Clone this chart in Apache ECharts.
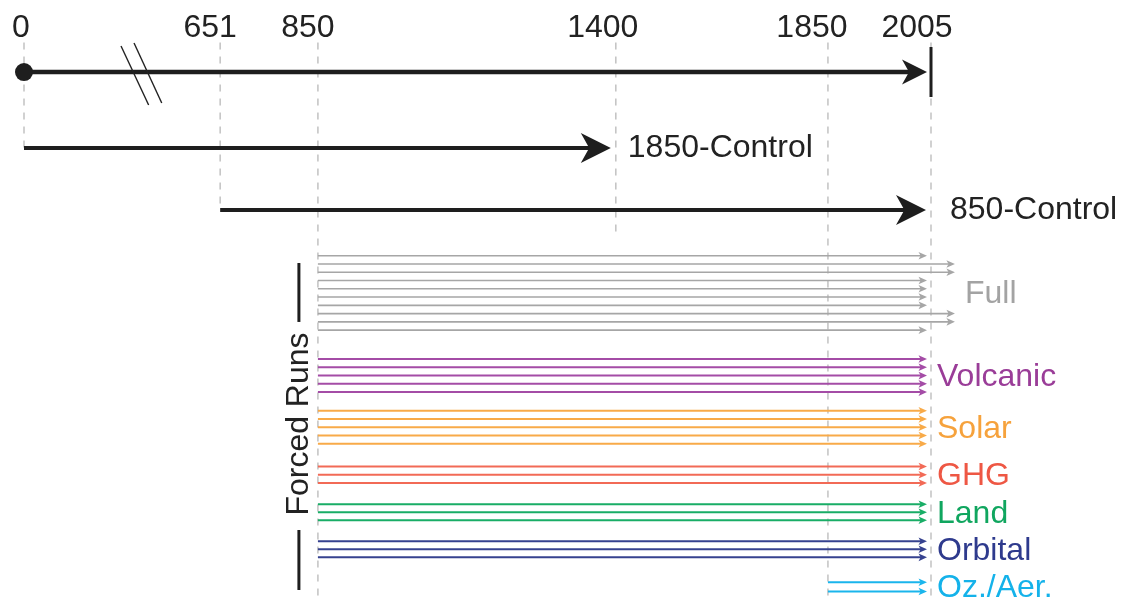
<!DOCTYPE html>
<html><head><meta charset="utf-8">
<script src="https://cdn.jsdelivr.net/npm/echarts@6/dist/echarts.min.js"></script>
<style>html,body{margin:0;padding:0;background:#fff}#c{width:1127px;height:607px}</style>
</head><body><div id="c"></div>
<script>
// ---------------- data ----------------
const tickYears = [0, 651, 850, 1400, 1850, 2005];
const tickLabels = ['0', '651', '850', '1400', '1850', '2005'];
const timelineStart = 0;
const timelineEnd = 2005;
const controlNames = ['1850-Control', '850-Control'];
const controlStarts = [0, 651];
const controlEnds = [1400, 2005];
const groupNames = ['Full', 'Volcanic', 'Solar', 'GHG', 'Land', 'Orbital', 'Oz./Aer.'];
const groupStarts = [850, 850, 850, 850, 850, 850, 1850];
const fullEnds = [2005, 2047, 2047, 2005, 2005, 2005, 2005, 2047, 2047, 2005];
const volcanicEnds = [2005, 2005, 2005, 2005, 2005];
const solarEnds = [2005, 2005, 2005, 2005, 2005];
const ghgEnds = [2005, 2005, 2005];
const landEnds = [2005, 2005, 2005];
const orbitalEnds = [2005, 2005, 2005];
const ozAerEnds = [2005, 2005];
const groupEnds = [fullEnds, volcanicEnds, solarEnds, ghgEnds, landEnds, orbitalEnds, ozAerEnds];
const bracketLabel = 'Forced Runs';

// ---------------- layout / style ----------------
// schematic (non-uniform) time axis: compressed stretches; only the first one is marked with "//"
const axisBreaks = [
  { start: 176, end: 532, gap: 0 },
  { start: 720, end: 772, gap: 0 },
  { start: 1050, end: 1152, gap: 0 },
  { start: 1550, end: 1681, gap: 0 }
];
const markedBreak = 176;
const tickLabelShift = [3, 10, 10, 13, 16, 14];
const controlLabelGap = [12, 19];
const FONT = '"Liberation Sans", Arial, Helvetica, sans-serif';
const groupColors = ['#a3a3a3', '#9a3d98', '#f6a23c', '#ee5744', '#10a65f', '#2e3a8d', '#14b2ea'];
const lineColors  = ['#a6a6a6', '#a44ca6', '#f8aa48', '#f26a56', '#19ad66', '#36428f', '#1ab5ec'];
const rowTop  = [25.5, 38.0, 44.25, 51.0, 55.57, 60.05, 65.0];
const rowStep = [1.0, 1.0, 1.0, 1.0, 0.97, 0.97, 1.13];
const axisRow = 3.27;
const controlRows = [12.46, 19.96];
const guideTop = -0.3;
const guideBottoms = [controlRows[0], controlRows[1], 67.15, 22.7, 67.15, 67.15];
const bracketTopSeg = [26.38, 33.51];
const bracketBotSeg = [58.68, 65.94];
const bracketMid = 45.86;

function arrowHead(tx, ty, len, half, notch) {
  return [[tx, ty], [tx - len, ty - half], [tx - len * notch, ty], [tx - len, ty + half]];
}

const runData = [];
groupNames.forEach((name, g) => {
  groupEnds[g].forEach((end, j) => runData.push([groupStarts[g], end, rowTop[g] + j * rowStep[g], g]));
});
const groupLabelData = groupNames.map((name, g) => {
  const n = groupEnds[g].length;
  return [Math.max(...groupEnds[g]), rowTop[g] + (n - 1) * rowStep[g] / 2, g];
});
const controlData = controlNames.map((n, i) => [controlStarts[i], controlEnds[i], controlRows[i], i]);
const guideData = tickYears.map((y, i) => [y, guideTop, guideBottoms[i]]);

const richTicks = {};
tickYears.forEach((y, i) => {
  richTicks['t' + i] = { fontSize: 32, color: '#222', fontFamily: FONT, padding: [0, 2 * tickLabelShift[i], 0, 0] };
});

const chart = echarts.init(document.getElementById('c'));
chart.setOption({
  animation: false,
  backgroundColor: '#fff',
  grid: { left: 24, right: 1127 - 931, top: 45, bottom: 0, containLabel: false, outerBoundsMode: 'none' },
  xAxis: {
    type: 'value', min: timelineStart, max: timelineEnd, position: 'top',
    breaks: axisBreaks,
    breakArea: { show: false, itemStyle: { color: 'rgba(0,0,0,0)', borderColor: 'rgba(0,0,0,0)', opacity: 0 } },
    axisLine: { show: false }, axisTick: { show: false }, splitLine: { show: false },
    axisLabel: {
      customValues: tickYears,
      formatter: (v) => { const i = tickYears.indexOf(v); return i >= 0 ? '{t' + i + '|' + tickLabels[i] + '}' : ''; },
      rich: richTicks,
      fontSize: 32, color: '#222', fontFamily: FONT, margin: 1
    }
  },
  yAxis: { type: 'value', min: 0, max: 68, inverse: true, show: false },
  series: [
    { // dashed guides
      type: 'custom', data: guideData, encode: { x: 0, y: [1, 2] }, silent: true, z: 1,
      renderItem(params, api) {
        const p1 = api.coord([api.value(0), api.value(1)]);
        const p2 = api.coord([api.value(0), api.value(2)]);
        return { type: 'line', shape: { x1: p1[0], y1: p1[1], x2: p2[0], y2: p2[1] },
          style: { stroke: '#c2c2c2', lineWidth: 1.5, lineDash: [7, 7] } };
      }
    },
    { // main timeline
      type: 'custom', data: [[timelineStart, timelineEnd, axisRow]], encode: { x: [0, 1], y: 2 }, silent: true, z: 3,
      renderItem(params, api) {
        const p1 = api.coord([api.value(0), api.value(2)]);
        const p2 = api.coord([api.value(1), api.value(2)]);
        const pb = api.coord([markedBreak, api.value(2)]);
        const y = p1[1];
        const tipX = p2[0] - 4, len = 25, half = 12.5;
        return { type: 'group', children: [
          { type: 'line', shape: { x1: p1[0], y1: y, x2: tipX - len * 0.6, y2: y }, style: { stroke: '#1e1e1e', lineWidth: 4.5 } },
          { type: 'polygon', shape: { points: arrowHead(tipX, y, len, half, 0.72) }, style: { fill: '#1e1e1e' } },
          { type: 'circle', shape: { cx: p1[0], cy: y, r: 9 }, style: { fill: '#1e1e1e' } },
          { type: 'line', shape: { x1: p2[0], y1: y - 25, x2: p2[0], y2: y + 25 }, style: { stroke: '#1e1e1e', lineWidth: 3 } },
          { type: 'line', shape: { x1: pb[0] - 20, y1: y - 26, x2: pb[0] + 7.6, y2: y + 33 }, style: { stroke: '#222', lineWidth: 1.4 } },
          { type: 'line', shape: { x1: pb[0] - 7, y1: y - 29, x2: pb[0] + 20.7, y2: y + 31 }, style: { stroke: '#222', lineWidth: 1.4 } }
        ] };
      }
    },
    { // control runs
      type: 'custom', data: controlData, encode: { x: [0, 1], y: 2 }, silent: true, z: 3,
      renderItem(params, api) {
        const i = api.value(3);
        const p1 = api.coord([api.value(0), api.value(2)]);
        const p2 = api.coord([api.value(1), api.value(2)]);
        const y = p1[1];
        const tipX = p2[0] - 5, len = 30, half = 15;
        return { type: 'group', children: [
          { type: 'line', shape: { x1: p1[0], y1: y, x2: tipX - len * 0.6, y2: y }, style: { stroke: '#1e1e1e', lineWidth: 4 } },
          { type: 'polygon', shape: { points: arrowHead(tipX, y, len, half, 0.72) }, style: { fill: '#1e1e1e' } },
          { type: 'text', x: p2[0] + controlLabelGap[i], y: y, style: { text: controlNames[i], fill: '#222', font: '32px ' + FONT,
            align: 'left', verticalAlign: 'middle', textAlign: 'left', textVerticalAlign: 'middle' } }
        ] };
      }
    },
    { // forced runs
      type: 'custom', data: runData, encode: { x: [0, 1], y: 2 }, silent: true, z: 2,
      renderItem(params, api) {
        const g = api.value(3);
        const p1 = api.coord([api.value(0), api.value(2)]);
        const p2 = api.coord([api.value(1), api.value(2)]);
        const y = p1[1];
        const tipX = p2[0] - 4, len = 8.5, half = 3.8;
        const col = lineColors[g];
        return { type: 'group', children: [
          { type: 'line', shape: { x1: p1[0], y1: y, x2: tipX - len * 0.6, y2: y }, style: { stroke: col, lineWidth: g === 0 ? 1.6 : 2 } },
          { type: 'polygon', shape: { points: arrowHead(tipX, y, len, half, 0.75) }, style: { fill: col } }
        ] };
      }
    },
    { // group labels
      type: 'custom', data: groupLabelData, encode: { x: 0, y: 1 }, silent: true, z: 4,
      renderItem(params, api) {
        const g = api.value(2);
        const p = api.coord([api.value(0), api.value(1)]);
        return { type: 'text', x: p[0] + 6, y: p[1] + 1.5, style: { text: groupNames[g], fill: groupColors[g], font: '32px ' + FONT,
          align: 'left', verticalAlign: 'middle', textAlign: 'left', textVerticalAlign: 'middle' } };
      }
    },
    { // "Forced Runs" bracket
      type: 'custom', data: [[groupStarts[0], bracketMid]], encode: { x: 0, y: 1 }, silent: true, z: 4,
      renderItem(params, api) {
        const p = api.coord([api.value(0), api.value(1)]);
        const x = p[0] - 19;
        const a = api.coord([api.value(0), bracketTopSeg[0]])[1], b = api.coord([api.value(0), bracketTopSeg[1]])[1];
        const c = api.coord([api.value(0), bracketBotSeg[0]])[1], d = api.coord([api.value(0), bracketBotSeg[1]])[1];
        return { type: 'group', children: [
          { type: 'line', shape: { x1: x, y1: a, x2: x, y2: b }, style: { stroke: '#1e1e1e', lineWidth: 3 } },
          { type: 'line', shape: { x1: x, y1: c, x2: x, y2: d }, style: { stroke: '#1e1e1e', lineWidth: 3 } },
          { type: 'text', x: x, y: p[1], rotation: Math.PI / 2, style: { text: bracketLabel, fill: '#222', font: '32px ' + FONT,
            align: 'center', verticalAlign: 'middle', textAlign: 'center', textVerticalAlign: 'middle' } }
        ] };
      }
    }
  ]
});
</script>
</body></html>
